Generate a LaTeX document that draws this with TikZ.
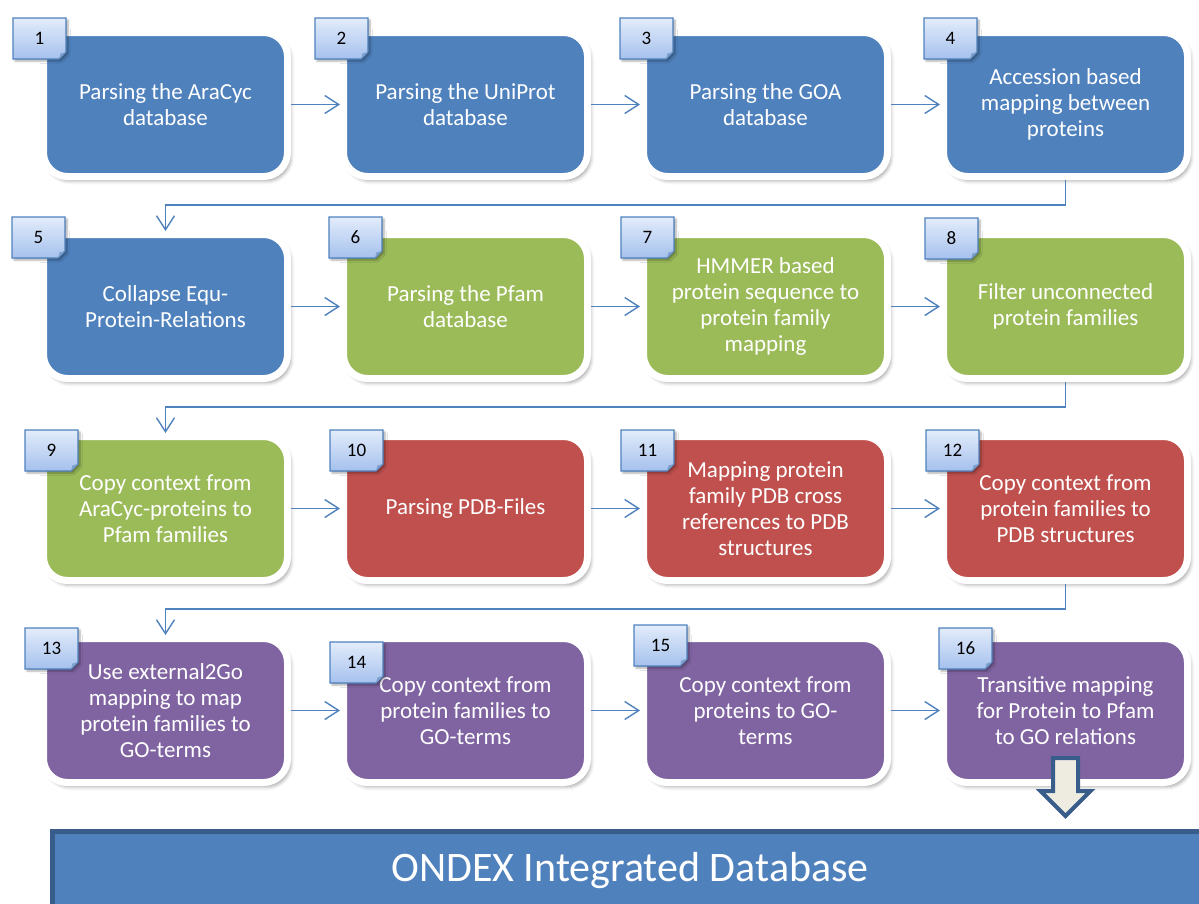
\documentclass[tikz,border=0pt]{standalone}
\usepackage{fontspec}
\setmainfont{Carlito}
\usetikzlibrary{arrows.meta,calc,shadows.blur}
\definecolor{blueA}{HTML}{4F81BD}
\definecolor{greenA}{HTML}{9BBB59}
\definecolor{redA}{HTML}{C0504D}
\definecolor{purpleA}{HTML}{8064A2}
\definecolor{darkblue}{HTML}{385D8A}
\definecolor{tabtop}{HTML}{E3ECFB}
\definecolor{tabbot}{HTML}{A5C1ED}
\definecolor{arrowfill}{HTML}{EEECE1}
\def\boxw{244pt}
\def\boxh{144pt}

\begin{document}
\begin{tikzpicture}[x=1pt, y=-1pt, >={Straight Barb[length=14pt,width=18pt]},
		stepbox/.style={draw=white, line width=7pt, rounded corners=24pt,
			minimum width=\boxw, minimum height=\boxh, align=center, text=white,
			font=\fontsize{23}{26}\selectfont,
			blur shadow={shadow xshift=3pt, shadow yshift=-4pt, shadow blur radius=4pt, shadow opacity=40}},
		tabshape/.style={draw=blueA, line width=1.3pt, top color=tabtop, bottom color=tabbot,
			blur shadow={shadow xshift=2pt, shadow yshift=-2pt, shadow blur radius=2pt, shadow opacity=35}},
		tabfold/.style={fill=blueA!75},
		tabnum/.style={inner sep=0pt, font=\fontsize{19}{19}\selectfont},
		flow/.style={->, draw=blueA, line width=1.4pt},
		dbbar/.style={draw=darkblue, line width=5pt, fill=blueA, text=white, anchor=north,
			minimum width=1155pt, minimum height=80pt, font=\fontsize{42}{42}\selectfont},
		bigarrow/.style={draw=darkblue, line width=4pt, fill=arrowfill, line join=miter}]
		
		\clip (0,0) rectangle (1199,903);
		
		% ---------- Steps with their number tabs ----------
		\foreach \n/\bx/\by/\clr/\tx/\ty/\txt in {
			1/165.5/104.5/blueA/39.5/38.5/{Parsing the AraCyc\\database},
			2/465.5/104.5/blueA/341.5/38.5/{Parsing the UniProt\\database},
			3/765.5/104.5/blueA/646.5/38.5/{Parsing the GOA\\database},
			4/1065.5/104.5/blueA/950.5/38.5/{Accession based\\mapping between\\proteins},
			5/165.5/306.5/blueA/38.5/237.5/{Collapse Equ-\\Protein-Relations},
			6/465.5/306.5/greenA/355.5/237.5/{Parsing the Pfam\\database},
			7/765.5/306.5/greenA/647.5/237.5/{HMMER based\\protein sequence to\\protein family\\mapping},
			8/1065.5/306.5/greenA/951.5/238.5/{Filter unconnected\\protein families},
			9/165.5/508.5/greenA/51.5/450.5/{Copy context from\\AraCyc-proteins to\\Pfam families},
			10/465.5/508.5/redA/356.5/450.5/{Parsing PDB-Files},
			11/765.5/508.5/redA/647.5/450.5/{Mapping protein\\family PDB cross\\references to PDB\\structures},
			12/1065.5/508.5/redA/952.5/450.5/{Copy context from\\protein families to\\PDB structures},
			13/165.5/710.5/purpleA/51.5/648.5/{Use external2Go\\mapping to map\\protein families to\\GO-terms},
			14/465.5/710.5/purpleA/356.5/662.5/{Copy context from\\protein families to\\GO-terms},
			15/765.5/710.5/purpleA/660.5/645.5/{Copy context from\\proteins to GO-\\terms},
			16/1065.5/710.5/purpleA/965.5/648.5/{Transitive mapping\\for Protein to Pfam\\to GO relations}}{
			\node[stepbox, fill=\clr] (s\n) at (\bx,\by) {\txt};
			\shadedraw[tabshape] (\tx,\ty) ++(-26.5,-20.5) -- ++(53,0) -- ++(0,34) -- ++(-7,7) -- ++(-46,0) -- cycle;
			\fill[tabfold] (\tx,\ty) ++(26.5,13.5) -- ++(-7,7) -- ++(1.5,-5.5) -- cycle;
			\node[tabnum] (n\n) at (\tx,\ty) {\n};
		}
		
		% ---------- Connectors ----------
		\foreach \a/\b in {1/2,2/3,3/4,5/6,6/7,7/8,9/10,10/11,11/12,13/14,14/15,15/16}
		\draw[flow] (s\a) -- (s\b);
		\foreach \a/\b in {4/5,8/9,12/13}
		\draw[flow] (s\a.south) -- ++(0,25) -| (s\b.north);
		
		% ---------- Integrated database ----------
		\node[dbbar] (db) at (630,828.5) {ONDEX Integrated Database};
		\coordinate (drop) at ($(s16.center)+(0,47.5)$);
		\draw[bigarrow] (drop) ++(-12.5,0) -- ++(25,0) -- ++(0,33) -- ++(12.5,0)
		-- ++(-25,25) -- ++(-25,-25) -- ++(12.5,0) -- cycle;
		
	\end{tikzpicture}
\end{document}
